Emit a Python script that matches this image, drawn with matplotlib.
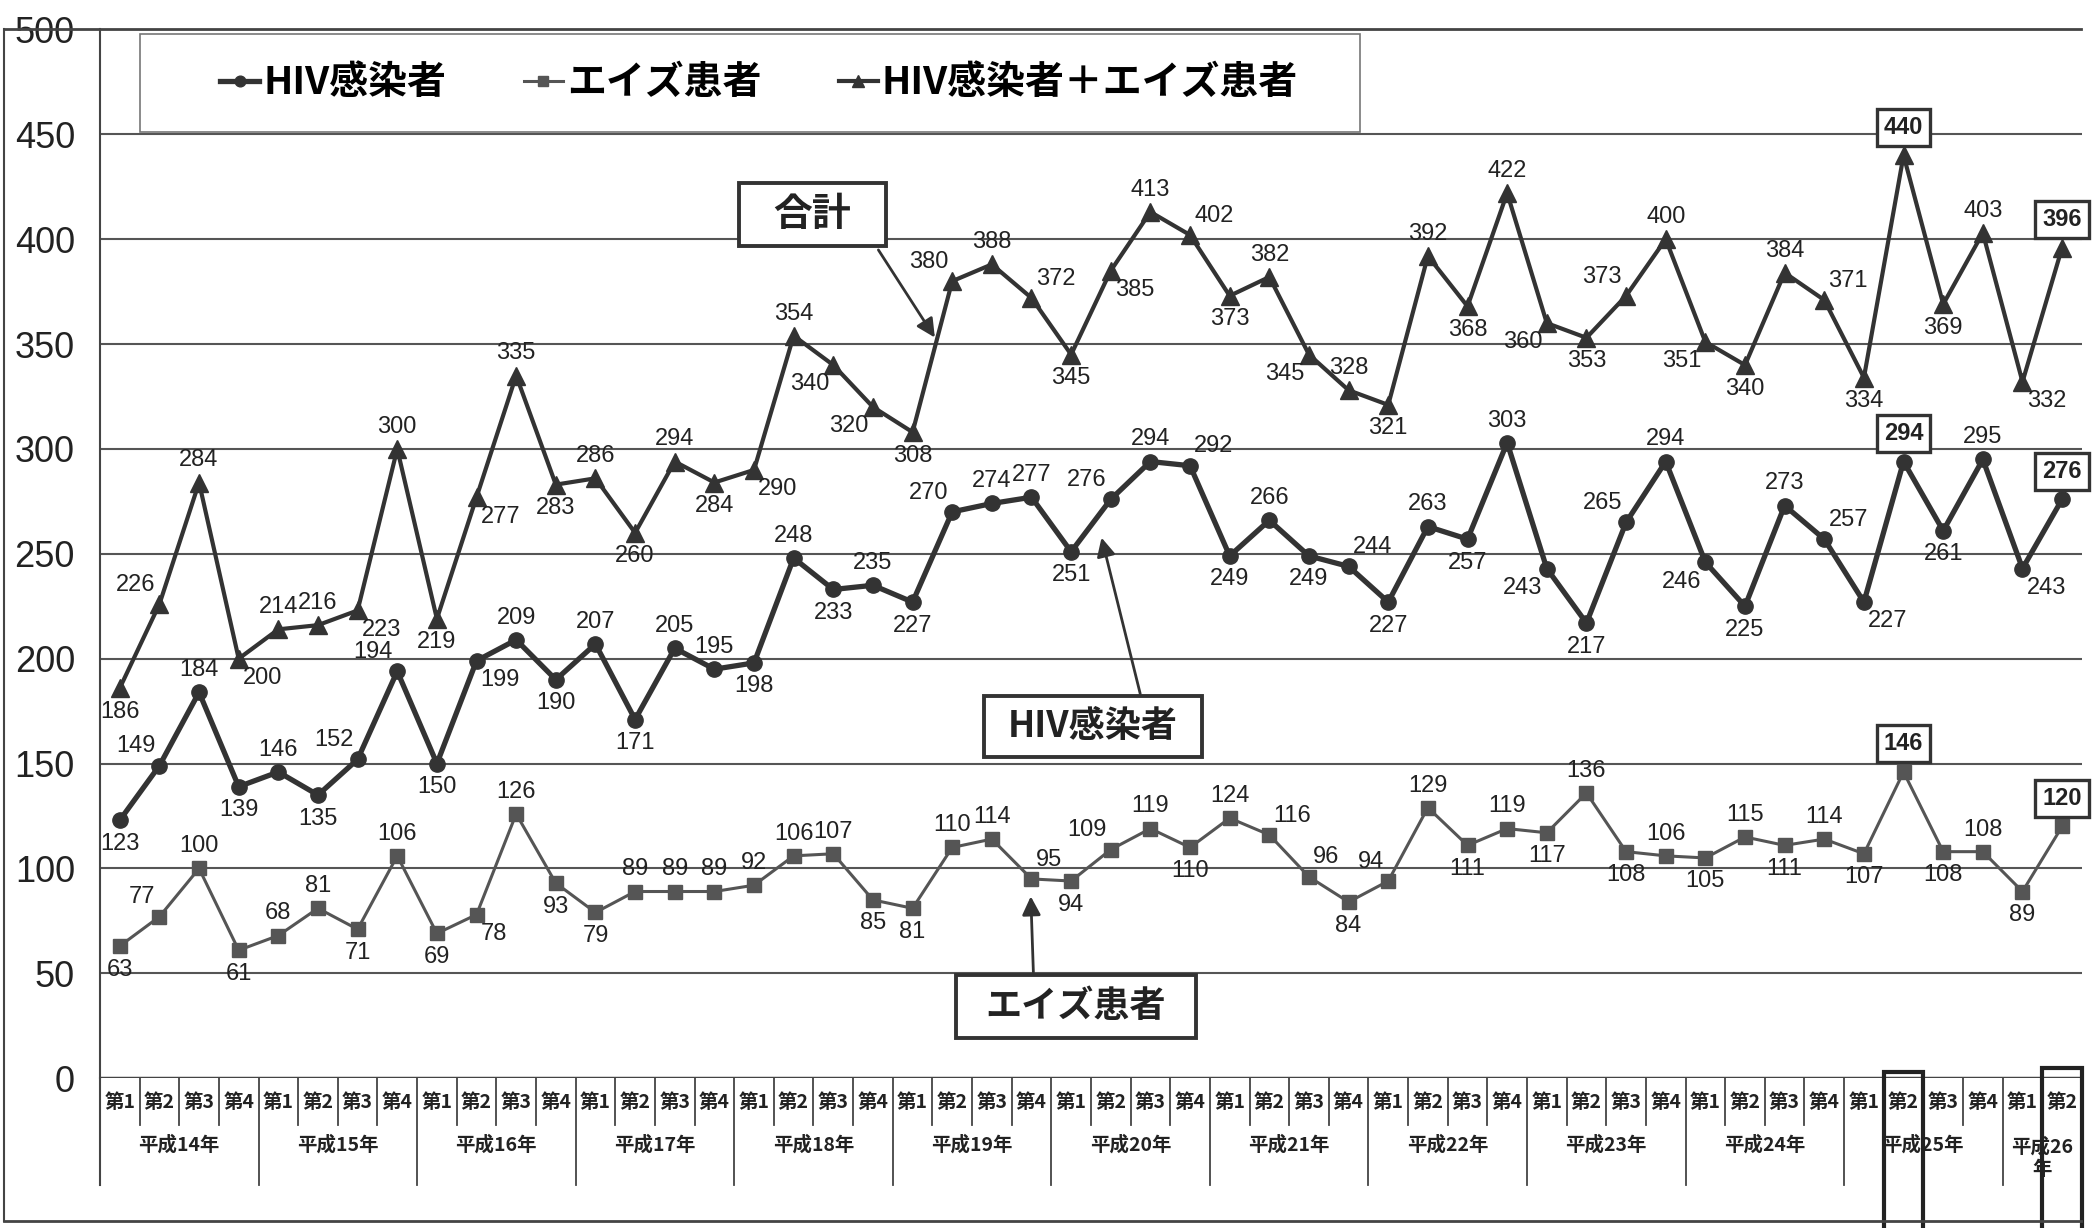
import matplotlib
matplotlib.use("Agg")
import matplotlib.pyplot as plt
from matplotlib.patches import Rectangle
from matplotlib.lines import Line2D

plt.rcParams['font.family'] = ['Liberation Sans', 'Noto Sans CJK JP', 'DejaVu Sans']

# datos
anios = ['平成14年', '平成15年', '平成16年', '平成17年', '平成18年', '平成19年',
         '平成20年', '平成21年', '平成22年', '平成23年', '平成24年', '平成25年', '平成26\n年']
trimestres = (['第1', '第2', '第3', '第4'] * 13)[:50]

hiv = [123, 149, 184, 139, 146, 135, 152, 194, 150, 199, 209, 190, 207, 171, 205, 195,
       198, 248, 233, 235, 227, 270, 274, 277, 251, 276, 294, 292, 249, 266, 249, 244,
       227, 263, 257, 303, 243, 217, 265, 294, 246, 225, 273, 257, 227, 294, 261, 295,
       243, 276]
aids = [63, 77, 100, 61, 68, 81, 71, 106, 69, 78, 126, 93, 79, 89, 89, 89,
        92, 106, 107, 85, 81, 110, 114, 95, 94, 109, 119, 110, 124, 116, 96, 84,
        94, 129, 111, 119, 117, 136, 108, 106, 105, 115, 111, 114, 107, 146, 108, 108,
        89, 120]
total = [186, 226, 284, 200, 214, 216, 223, 300, 219, 277, 335, 283, 286, 260, 294, 284,
         290, 354, 340, 320, 308, 380, 388, 372, 345, 385, 413, 402, 373, 382, 345, 328,
         321, 392, 368, 422, 360, 353, 373, 400, 351, 340, 384, 371, 334, 440, 369, 403,
         332, 396]

# posicion de etiquetas (A = recuadro)
pos_total = ['b', 'al', 'a', 'br', 'a', 'a', 'br', 'a', 'b', 'br', 'a', 'b', 'a', 'b', 'a', 'b',
             'br', 'a', 'bl', 'bl', 'b', 'al', 'a', 'ar', 'b', 'br', 'a', 'ar', 'b', 'a', 'bl', 'a',
             'b', 'a', 'b', 'a', 'bl', 'b', 'al', 'a', 'bl', 'b', 'a', 'ar', 'b', 'A', 'b', 'a',
             'br', 'A']
pos_hiv = ['b', 'al', 'a', 'b', 'a', 'b', 'al', 'al', 'b', 'br', 'a', 'b', 'a', 'b', 'a', 'a',
           'b', 'a', 'b', 'a', 'b', 'al', 'a', 'a', 'b', 'al', 'a', 'ar', 'b', 'a', 'b', 'ar',
           'b', 'a', 'b', 'a', 'bl', 'b', 'al', 'a', 'bl', 'b', 'a', 'ar', 'br', 'A', 'b', 'a',
           'br', 'A']
pos_aids = ['b', 'al', 'a', 'b', 'a', 'a', 'b', 'a', 'b', 'br', 'a', 'b', 'b', 'a', 'a', 'a',
            'a', 'a', 'a', 'b', 'b', 'a', 'a', 'ar', 'b', 'al', 'a', 'b', 'a', 'ar', 'ar', 'b',
            'al', 'a', 'b', 'a', 'b', 'a', 'b', 'a', 'b', 'a', 'b', 'a', 'b', 'A', 'b', 'a',
            'b', 'A']

offs = {'a': (0, 8, 'center', 'bottom'), 'b': (0, -9, 'center', 'top'),
        'al': (-3, 6, 'right', 'bottom'), 'ar': (3, 6, 'left', 'bottom'),
        'bl': (-3, -6, 'right', 'top'), 'br': (3, -6, 'left', 'top'),
        'A': (0, 12, 'center', 'bottom')}

C = '#333333'
fig = plt.figure(figsize=(21, 12.28), dpi=100)
ax = fig.add_axes([0.0476, 0.122, 0.9438, 0.854])
x = list(range(len(hiv)))

l1, = ax.plot(x, hiv, color=C, lw=3.8, marker='o', ms=11, zorder=4, label='HIV感染者')
l2, = ax.plot(x, aids, color='#555555', lw=2.2, marker='s', ms=10, zorder=4, label='エイズ患者')
l3, = ax.plot(x, total, color=C, lw=3.0, marker='^', ms=13, zorder=4, label='HIV感染者＋エイズ患者')

ax.set_xlim(-0.5, 49.5)
ax.set_ylim(0, 500)
ax.set_yticks(range(0, 501, 50))
ax.tick_params(axis='y', length=0, labelsize=26, pad=18, labelcolor='#222222')
ax.set_xticks([])
for s in ['top', 'right', 'bottom', 'left']:
    ax.spines[s].set_visible(False)
for v in range(50, 501, 50):
    ax.axhline(v, color='#555555', lw=1.5, zorder=1)
ax.axhline(0, color='#444444', lw=2.5, zorder=1)

for serie, posiciones in [(total, pos_total), (hiv, pos_hiv), (aids, pos_aids)]:
    for i, (v, p) in enumerate(zip(serie, posiciones)):
        dx, dy, ha, va = offs[p]
        kw = {}
        if p == 'A':
            kw['bbox'] = dict(boxstyle='square,pad=0.3', fc='white', ec=C, lw=2.4)
            kw['fontweight'] = 'bold'
        ax.annotate(str(v), (i, v), xytext=(dx, dy), textcoords='offset points',
                    ha=ha, va=va, fontsize=17, color='#222222', zorder=5, **kw)

# leyenda
ax.add_patch(Rectangle((0.5, 451), 30.8, 47, fc='white', ec='#777777', lw=1.2, zorder=2))
ax.legend(handles=[l1, l2, l3], loc='center left', bbox_to_anchor=(0.051, 0.949),
          ncol=3, frameon=False, prop={'family': 'Noto Sans CJK JP', 'weight': 'bold', 'size': 28},
          handlelength=1.0, handletextpad=0.1, columnspacing=2.0, markerscale=0.7, borderpad=0)

# cuadros de texto con flechas
cajas = [('合計', 15.63, 397, 3.69, 30, 28, (19.1, 396), (20.6, 352)),
         ('HIV感染者', 21.8, 153, 5.5, 29, 26, (25.76, 182), (24.75, 259)),
         ('エイズ患者', 21.1, 19.2, 6.05, 30, 26, (23.05, 49.2), (22.98, 88))]
for txt, bx, by, bw, bh, fs, p0, p1 in cajas:
    ax.add_patch(Rectangle((bx, by), bw, bh, fc='white', ec=C, lw=2.8, zorder=6))
    ax.text(bx + bw / 2, by + bh / 2, txt, ha='center', va='center', fontsize=fs,
            family='Noto Sans CJK JP', fontweight='bold', color='#222222', zorder=7)
    ax.annotate('', xy=p1, xytext=p0, zorder=6,
                arrowprops=dict(arrowstyle='-|>', color=C, lw=2, mutation_scale=28))

# tabla de categorias
ax.plot([-0.5, -0.5], [0, -51], color='#444444', lw=1.5, clip_on=False)
ax.plot([-0.5, -0.5], [0, 500], color='#444444', lw=1.5, clip_on=False)
for k in range(1, 50):
    bajo = -51 if k % 4 == 0 else -22.3
    ax.plot([k - 0.5, k - 0.5], [0, bajo], color='#444444', lw=1.3, clip_on=False)
for i, t in enumerate(trimestres):
    ax.text(i, -11.5, t, ha='center', va='center', fontsize=14, family='Noto Sans CJK JP',
            fontweight='bold', color='#222222')
for j, a in enumerate(anios):
    cx = 48.5 if j == 12 else 4 * j + 1.5
    ax.text(cx, -32 if j < 12 else -38, a, ha='center', va='center', fontsize=14,
            family='Noto Sans CJK JP', fontweight='bold', color='#222222', linespacing=1.2)
for k, top in [(45, 3), (49, 5)]:
    ax.add_patch(Rectangle((k - 0.5, -80), 1, 80 + top, fc='none', ec='#222222', lw=3,
                           clip_on=False, zorder=6))

# marco exterior
fig.add_artist(Line2D([0.002, 0.991], [0.976, 0.976], color='#444444', lw=2))
fig.add_artist(Line2D([0.002, 0.002], [0.006, 0.976], color='#444444', lw=1.5))
fig.add_artist(Line2D([0.002, 0.991], [0.006, 0.006], color='#444444', lw=2))

fig.savefig('out.png', dpi=100, facecolor='white')
